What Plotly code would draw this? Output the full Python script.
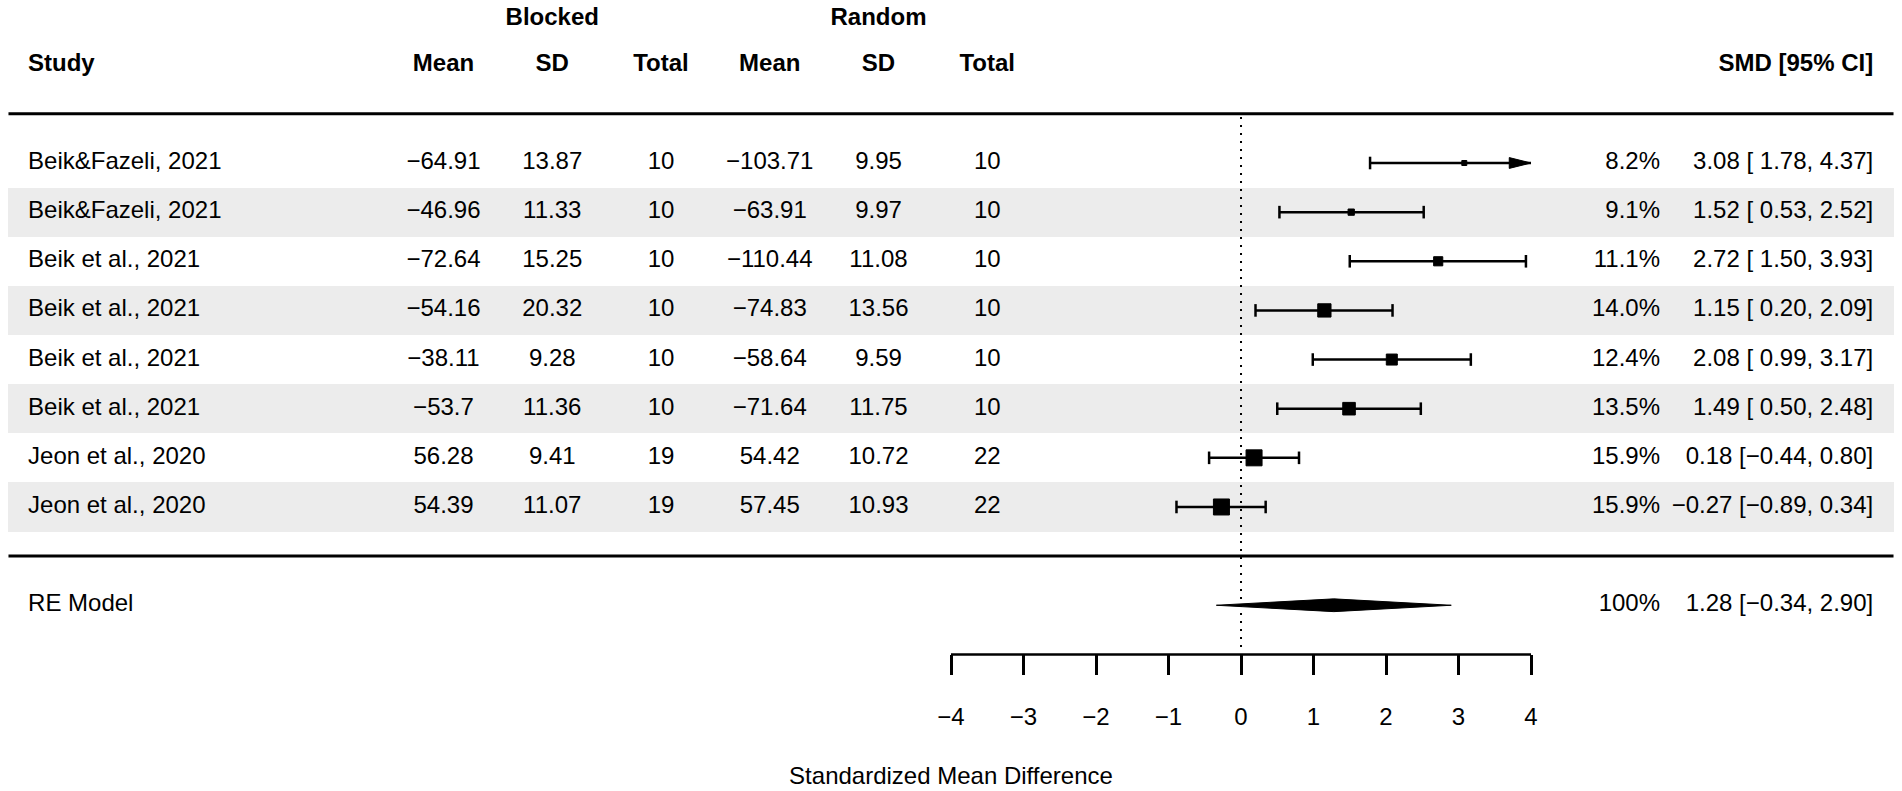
import plotly.graph_objects as go

# study data
studies = ["Beik&Fazeli, 2021", "Beik&Fazeli, 2021", "Beik et al., 2021", "Beik et al., 2021",
           "Beik et al., 2021", "Beik et al., 2021", "Jeon et al., 2020", "Jeon et al., 2020"]
blk_mean = [-64.91, -46.96, -72.64, -54.16, -38.11, -53.7, 56.28, 54.39]
blk_sd = [13.87, 11.33, 15.25, 20.32, 9.28, 11.36, 9.41, 11.07]
blk_n = [10, 10, 10, 10, 10, 10, 19, 19]
rnd_mean = [-103.71, -63.91, -110.44, -74.83, -58.64, -71.64, 54.42, 57.45]
rnd_sd = [9.95, 9.97, 11.08, 13.56, 9.59, 11.75, 10.72, 10.93]
rnd_n = [10, 10, 10, 10, 10, 10, 22, 22]
weights = [8.2, 9.1, 11.1, 14.0, 12.4, 13.5, 15.9, 15.9]
smd = [3.08, 1.52, 2.72, 1.15, 2.08, 1.49, 0.18, -0.27]
ci_lo = [1.78, 0.53, 1.50, 0.20, 0.99, 0.50, -0.44, -0.89]
ci_hi = [4.37, 2.52, 3.93, 2.09, 3.17, 2.48, 0.80, 0.34]

# random effects model
re_label = "RE Model"
re_est = 1.28
re_lo = -0.34
re_hi = 2.90
re_weight = "100%"

ticks = [-4, -3, -2, -1, 0, 1, 2, 3, 4]

# layout in plot units (like metafor's xlim / ilab.xpos)
k = len(studies)
rows = list(range(k, 0, -1))
xlim = (-17, 9)
alim = (-4, 4)
ilab_x = [-11, -9.5, -8, -6.5, -5, -3.5]
x_study = -16.73
x_weight = 5.78
x_ci = 8.72
y_axis = -2
y_group = k + 2.94
W, H = 1902, 791
xr = (-17.117, 9.117)
yr = (-4.78, 11.317)

FONT = "Liberation Sans, Arial, sans-serif"
FS = 24


def fmt(v):
    return str(v).replace("-", "\u2212")


def fmt_ci(e, lo, hi):
    s = f"{e:.2f} [{lo:5.2f}, {hi:.2f}]"
    return s.replace("-", "\u2212")


fig = go.Figure()

# shaded bands on every second row
band_rows = rows[1::2]
fig.add_trace(go.Bar(y=band_rows, x=[xlim[1] - xlim[0]] * len(band_rows), base=xlim[0],
                     orientation="h", width=1, marker=dict(color="#ECECEC", line=dict(width=0)),
                     hoverinfo="skip"))

# horizontal rules
fig.add_trace(go.Scatter(x=[xlim[0], xlim[1], None, xlim[0], xlim[1]],
                         y=[k + 1, k + 1, None, 0, 0], mode="lines",
                         line=dict(color="black", width=3), hoverinfo="skip"))

# reference line at 0
fig.add_trace(go.Scatter(x=[0, 0], y=[y_axis + 0.15, k + 1], mode="lines",
                         line=dict(color="black", width=2, dash="2px,6px"), hoverinfo="skip"))

# axis line
fig.add_trace(go.Scatter(x=[alim[0], alim[1]], y=[y_axis, y_axis], mode="lines",
                         line=dict(color="black", width=2.5), hoverinfo="skip"))

# CI segments
seg_x, seg_y, cap_x, cap_y = [], [], [], []
for r, lo, hi in zip(rows, ci_lo, ci_hi):
    seg_x += [max(lo, alim[0]), min(hi, alim[1]), None]
    seg_y += [r, r, None]
    if lo >= alim[0]:
        cap_x.append(lo)
        cap_y.append(r)
    if hi <= alim[1]:
        cap_x.append(hi)
        cap_y.append(r)
    if hi > alim[1]:
        # arrow for a clipped interval
        fig.add_trace(go.Scatter(x=[alim[1] - 0.3, alim[1], alim[1] - 0.3, alim[1] - 0.3],
                                 y=[r + 0.11, r, r - 0.11, r + 0.11], mode="lines",
                                 fill="toself", fillcolor="black",
                                 line=dict(color="black", width=1), hoverinfo="skip"))
fig.add_trace(go.Scatter(x=seg_x, y=seg_y, mode="lines",
                         line=dict(color="black", width=2.5), hoverinfo="skip"))
fig.add_trace(go.Scatter(x=cap_x, y=cap_y, mode="markers",
                         marker=dict(symbol="line-ns", size=9, color="black",
                                     line=dict(width=2.5, color="black")),
                         hoverinfo="skip"))

# squares sized by weight
wmin, wmax = min(weights), max(weights)
sizes = [5 + (w - wmin) / (wmax - wmin) * 11 for w in weights]
fig.add_trace(go.Scatter(x=smd, y=rows, mode="markers",
                         marker=dict(symbol="square", size=sizes, color="black", opacity=1,
                                     line=dict(width=1, color="black")),
                         hoverinfo="skip"))

# summary diamond
h = 0.13
fig.add_trace(go.Scatter(x=[re_lo, re_est, re_hi, re_est, re_lo],
                         y=[-1, -1 + h, -1, -1 - h, -1], mode="lines", fill="toself",
                         fillcolor="black", line=dict(color="black", width=1), hoverinfo="skip"))


def text_col(x, ys, texts, pos):
    fig.add_trace(go.Scatter(x=[x] * len(ys), y=ys, mode="text", text=texts,
                             textposition=pos, cliponaxis=False,
                             textfont=dict(family=FONT, size=FS, color="black"),
                             hoverinfo="skip"))


# study labels and table columns
text_col(x_study, rows + [-1], studies + [re_label], "middle right")
cols = [blk_mean, blk_sd, blk_n, rnd_mean, rnd_sd, rnd_n]
for xp, col in zip(ilab_x, cols):
    text_col(xp, rows, [fmt(v) for v in col], "middle center")
text_col(x_weight, rows + [-1], [f"{w:.1f}%" for w in weights] + [re_weight], "middle left")
text_col(x_ci, rows + [-1],
         [fmt_ci(e, lo, hi) for e, lo, hi in zip(smd, ci_lo, ci_hi)] + [fmt_ci(re_est, re_lo, re_hi)],
         "middle left")

# headers
text_col(x_study, [k + 2], ["<b>Study</b>"], "middle right")
for xp, lab in zip(ilab_x, ["Mean", "SD", "Total", "Mean", "SD", "Total"]):
    text_col(xp, [k + 2], [f"<b>{lab}</b>"], "middle center")
text_col(ilab_x[1], [y_group], ["<b>Blocked</b>"], "middle center")
text_col(ilab_x[4], [y_group], ["<b>Random</b>"], "middle center")
text_col(x_ci, [k + 2], ["<b>SMD [95% CI]</b>"], "middle left")

fig.update_layout(
    width=W, height=H,
    margin=dict(l=0, r=0, t=0, b=0),
    paper_bgcolor="white", plot_bgcolor="white",
    showlegend=False, bargap=0,
    font=dict(family=FONT, size=FS, color="black"),
    xaxis=dict(range=list(xr), showgrid=False, zeroline=False, showline=False,
               anchor="free", position=(y_axis - yr[0]) / (yr[1] - yr[0]),
               tickvals=ticks, ticks="outside", ticklen=20, tickwidth=2.5, tickcolor="black",
               ticklabelstandoff=21, tickfont=dict(family=FONT, size=FS, color="black"),
               title=dict(text="Standardized Mean Difference", standoff=38,
                          font=dict(family=FONT, size=FS, color="black"))),
    yaxis=dict(range=list(yr), visible=False),
)

# drop the default page margin so the figure sits at the window corner
fig.write_html("out.html", config={"displayModeBar": False},
               post_script="document.body.style.margin = '0';")
